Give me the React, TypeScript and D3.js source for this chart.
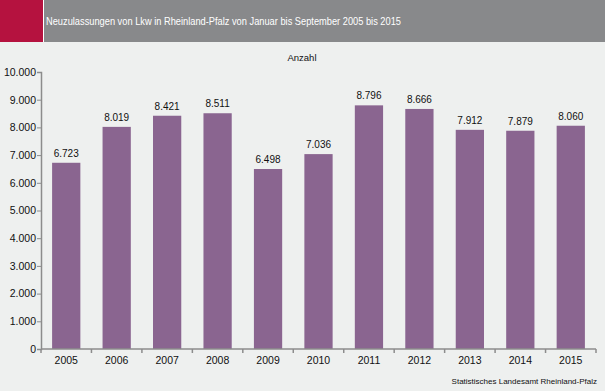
import { useEffect, useRef } from "react";
import * as d3 from "d3";

const years = ["2005", "2006", "2007", "2008", "2009", "2010", "2011", "2012", "2013", "2014", "2015"];
const counts = [6723, 8019, 8421, 8511, 6498, 7036, 8796, 8666, 7912, 7879, 8060];
const yTicks = [0, 1000, 2000, 3000, 4000, 5000, 6000, 7000, 8000, 9000, 10000];

const title = "Neuzulassungen von Lkw in Rheinland-Pfalz von Januar bis September 2005 bis 2015";
const unitLabel = "Anzahl";
const source = "Statistisches Landesamt Rheinland-Pfalz";

const W = 605;
const H = 391;
const fmt = (v: number) => d3.format(",")(v).replace(/,/g, ".");

export default function App() {
  const svgRef = useRef<SVGSVGElement | null>(null);

  useEffect(() => {
    const svg = d3.select(svgRef.current);
    svg.selectAll("*").remove();
    const font = "'Liberation Sans', Arial, sans-serif";

    svg.append("rect").attr("width", W).attr("height", H).attr("fill", "#eef0ef");
    // header band
    svg.append("rect").attr("x", 0).attr("y", 0).attr("width", 43).attr("height", 42).attr("fill", "#b5123f");
    svg.append("rect").attr("x", 43).attr("y", 0).attr("width", 1).attr("height", 42).attr("fill", "#ffffff");
    svg.append("rect").attr("x", 44).attr("y", 0).attr("width", W - 44).attr("height", 42).attr("fill", "#88898b");
    svg.append("text")
      .attr("x", 46).attr("y", 25)
      .attr("fill", "#ffffff").attr("font-family", font).attr("font-size", 11.5)
      .attr("textLength", 355).attr("lengthAdjust", "spacingAndGlyphs")
      .text(title);

    const left = 41, right = 596, top = 72, bottom = 349;
    const x = d3.scaleBand().domain(years).range([left, right]).paddingInner(0.44).paddingOuter(0.22);
    const y = d3.scaleLinear().domain([0, 10000]).range([bottom, top]);

    svg.append("text")
      .attr("x", 302).attr("y", 61).attr("text-anchor", "middle")
      .attr("fill", "#111").attr("font-family", font).attr("font-size", 9.5)
      .text(unitLabel);

    // bars
    svg.append("g").selectAll("rect").data(counts).join("rect")
      .attr("x", (_, i) => x(years[i])!)
      .attr("y", (d) => y(d))
      .attr("width", x.bandwidth())
      .attr("height", (d) => bottom - y(d))
      .attr("fill", "#8a6590");

    svg.append("g").selectAll("text").data(counts).join("text")
      .attr("x", (_, i) => x(years[i])! + x.bandwidth() / 2)
      .attr("y", (d) => y(d) - 6)
      .attr("text-anchor", "middle")
      .attr("fill", "#111").attr("font-family", font).attr("font-size", 10)
      .text((d) => fmt(d));

    // y axis
    const yAxis = svg.append("g").attr("transform", `translate(${left},0)`)
      .call(d3.axisLeft(y).tickValues(yTicks).tickSize(4).tickFormat((d) => fmt(d as number)));
    yAxis.select(".domain").attr("stroke", "#8c8c8c").attr("stroke-width", 1.5);
    yAxis.selectAll(".tick line").attr("stroke", "#8c8c8c");
    yAxis.selectAll("text").attr("fill", "#111").attr("font-family", font).attr("font-size", 10.5).attr("x", -5);

    // x axis
    const xg = svg.append("g").attr("transform", `translate(0,${bottom})`);
    xg.append("line").attr("x1", left).attr("x2", right).attr("stroke", "#8c8c8c").attr("stroke-width", 1.5);
    const step = x.step();
    const edge = left + x.paddingOuter() * step - (x.paddingInner() * step) / 2;
    xg.selectAll("line.tk").data(d3.range(years.length + 1)).join("line")
      .attr("class", "tk")
      .attr("x1", (i) => edge + i * step)
      .attr("x2", (i) => edge + i * step)
      .attr("y1", 0).attr("y2", 4)
      .attr("stroke", "#8c8c8c").attr("stroke-width", 1.5);
    xg.selectAll("text").data(years).join("text")
      .attr("x", (d) => x(d)! + x.bandwidth() / 2)
      .attr("y", 15)
      .attr("text-anchor", "middle")
      .attr("fill", "#111").attr("font-family", font).attr("font-size", 10.5)
      .text((d) => d);

    svg.append("text")
      .attr("x", 597).attr("y", 384).attr("text-anchor", "end")
      .attr("fill", "#111").attr("font-family", font).attr("font-size", 8)
      .text(source);
  }, []);

  return (
    <div style={{ position: "fixed", left: 0, top: 0 }}>
      <svg ref={svgRef} width={W} height={H} style={{ display: "block" }} />
    </div>
  );
}
